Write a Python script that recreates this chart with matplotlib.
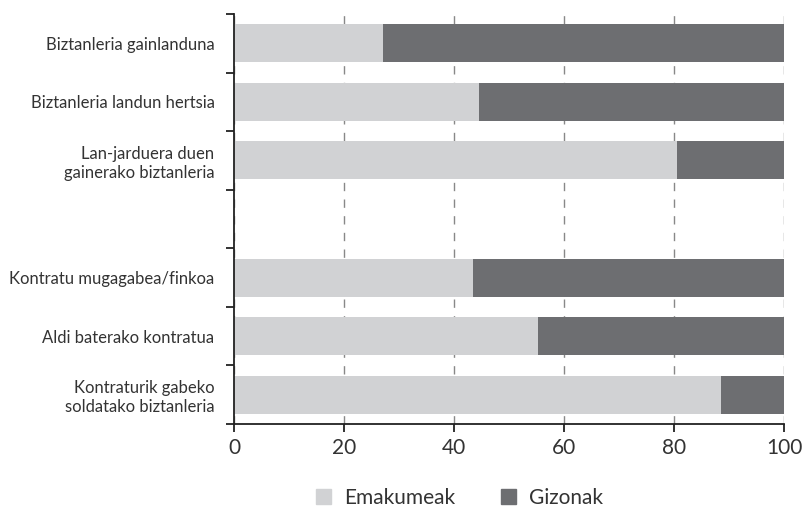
import matplotlib
matplotlib.use("Agg")
import matplotlib.pyplot as plt
import numpy as np
from matplotlib.patches import Patch

plt.rcParams["font.family"] = ["Lato", "DejaVu Sans"]

# categories top to bottom (empty string = gap row)
categories = [
    "Biztanleria gainlanduna",
    "Biztanleria landun hertsia",
    "Lan-jarduera duen\ngainerako biztanleria",
    "",
    "Kontratu mugagabea/finkoa",
    "Aldi baterako kontratua",
    "Kontraturik gabeko\nsoldatako biztanleria",
]
emakumeak = [27.1, 44.5, 80.5, np.nan, 43.5, 55.3, 88.5]
gizonak = [100 - v for v in emakumeak]

c_light = "#d1d2d4"
c_dark = "#6d6e71"

fig = plt.figure(figsize=(8.03, 5.12), dpi=100)
ax = fig.add_axes([0.2914, 0.1719, 0.9763 - 0.2914, 0.9727 - 0.1719])

y = np.arange(len(categories))
em = np.nan_to_num(np.array(emakumeak, dtype=float))
gz = np.array([0 if np.isnan(e) else g for e, g in zip(emakumeak, gizonak)])
ax.barh(y, em, height=0.65, color=c_light, zorder=2)
ax.barh(y, gz, left=em, height=0.65, color=c_dark, zorder=2)

ax.set_xlim(0, 100)
ax.set_ylim(len(categories) - 0.5, -0.5)

ax.set_xticks([0, 20, 40, 60, 80, 100])
ax.tick_params(axis="x", labelsize=15, length=6, width=1.3, color="#222222",
               labelcolor="#333333", pad=4)
ax.set_yticks(np.arange(len(categories) + 1) - 0.5)
ax.set_yticklabels([])
ax.set_yticks(y, minor=True)
ax.set_yticklabels(categories, minor=True, fontsize=12, color="#333333",
                   ha="right", linespacing=1.25)
ax.tick_params(axis="y", which="major", length=6, width=1.3, color="#222222")
ax.tick_params(axis="y", which="minor", length=0, pad=14)

ax.grid(axis="x", linestyle=(0, (6, 6)), color="#888888", lw=1, zorder=0)
ax.set_axisbelow(True)

for s in ["top", "right"]:
    ax.spines[s].set_visible(False)
for s in ["left", "bottom"]:
    ax.spines[s].set_linewidth(1.3)
    ax.spines[s].set_color("#222222")

handles = [Patch(color=c_light, label="Emakumeak"), Patch(color=c_dark, label="Gizonak")]
fig.legend(handles=handles, loc="center", bbox_to_anchor=(0.572, 0.028), ncol=2,
           frameon=False, fontsize=15, handlelength=0.75, handleheight=0.75,
           columnspacing=2.2, handletextpad=0.6, labelcolor="#333333")

fig.savefig("out.png", dpi=100)
